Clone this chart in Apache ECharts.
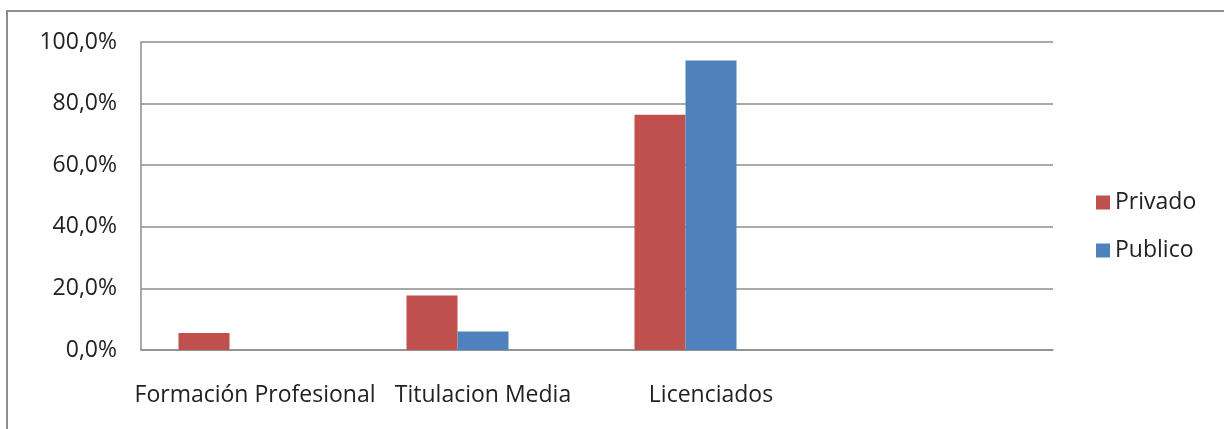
<!DOCTYPE html>
<html>
<head>
<meta charset="utf-8">
<script src="https://cdn.jsdelivr.net/npm/echarts@6/dist/echarts.min.js"></script>
<style>
  html, body { margin: 0; padding: 0; background: #fff; }
  #chart { width: 1224px; height: 429px; }
</style>
</head>
<body>
<div id="chart"></div>
<script>
// categories (last slot is empty in the original)
const categories = ['Formación Profesional', 'Titulacion Media', 'Licenciados', '']
const privado = [5.5, 17.7, 76.4, null]
const publico = [null, 6.0, 94.0, null]
// the original chart keeps room for a third, empty series
const vacio = [null, null, null, null]
const yTicks = [0, 20, 40, 60, 80, 100]

const font = 'Open Sans'
const chart = echarts.init(document.getElementById('chart'))

chart.setOption({
  animation: false,
  textStyle: { fontFamily: font },
  graphic: [{
    type: 'rect',
    shape: { x: 7, y: 11, width: 1240, height: 440 },
    style: { fill: 'none', stroke: '#8d8d8d', lineWidth: 2 },
    silent: true
  }],
  legend: {
    orient: 'vertical',
    left: 1091,
    top: 186,
    itemWidth: 14,
    itemHeight: 14,
    itemGap: 25,
    icon: 'rect',
    textStyle: { fontSize: 23, lineHeight: 22, color: '#222', fontFamily: font },
    data: ['Privado', 'Publico']
  },
  grid: { left: 141, right: 171, top: 42, bottom: 79, containLabel: false },
  xAxis: {
    type: 'category',
    data: categories,
    axisTick: { show: false },
    axisLine: { lineStyle: { color: '#8d8d8d', width: 1.5 } },
    axisLabel: { margin: 34, fontSize: 23, color: '#222', fontFamily: font, interval: 0 }
  },
  yAxis: {
    type: 'value',
    min: yTicks[0],
    max: yTicks[yTicks.length - 1],
    interval: 20,
    axisLine: { show: true, lineStyle: { color: '#8d8d8d', width: 1.5 } },
    axisTick: { show: false },
    splitLine: { lineStyle: { color: '#8d8d8d', width: 1.5 } },
    axisLabel: {
      margin: 24,
      fontSize: 23,
      color: '#222',
      fontFamily: font,
      formatter: v => v.toFixed(1).replace('.', ',') + '%'
    }
  },
  series: [{
    name: 'Privado',
    type: 'bar',
    data: privado,
    barWidth: 51,
    barGap: '0%',
    itemStyle: { color: '#c0504d' }
  }, {
    name: 'Publico',
    type: 'bar',
    data: publico,
    barWidth: 51,
    itemStyle: { color: '#4f81bd' }
  }, {
    name: 'vacio',
    type: 'bar',
    data: vacio,
    barWidth: 51,
    itemStyle: { color: '#9bbb59' }
  }]
})
</script>
</body>
</html>
